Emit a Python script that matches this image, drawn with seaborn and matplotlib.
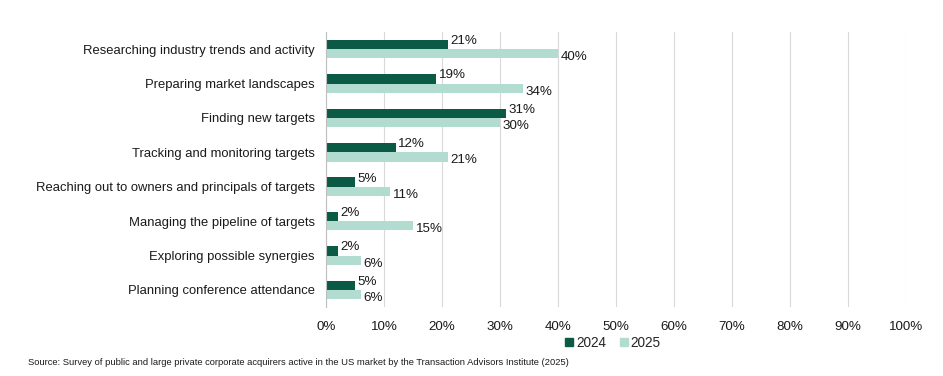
import numpy as np
import pandas as pd
import matplotlib.pyplot as plt
import seaborn as sns

categories = [
    "Researching industry trends and activity",
    "Preparing market landscapes",
    "Finding new targets",
    "Tracking and monitoring targets",
    "Reaching out to owners and principals of targets",
    "Managing the pipeline of targets",
    "Exploring possible synergies",
    "Planning conference attendance",
]
values_2024 = [21, 19, 31, 12, 5, 2, 2, 5]
values_2025 = [40, 34, 30, 21, 11, 15, 6, 6]
years = ["2024", "2025"]
colors = ["#0b5a45", "#b3dcd1"]
source = ("Source: Survey of public and large private corporate acquirers active in the US market "
          "by the Transaction Advisors Institute (2025)")

df = pd.DataFrame({
    "category": categories * 2,
    "value": values_2024 + values_2025,
    "year": [years[0]] * len(categories) + [years[1]] * len(categories),
})

sns.set_style("white")
plt.rcParams['font.family'] = ['Liberation Sans', 'DejaVu Sans']

fig = plt.figure(figsize=(9.43, 3.76), dpi=100)
ax = fig.add_axes([0.3457, 0.183, 0.615, 0.732])

sns.barplot(
    data=df, y="category", x="value", hue="year",
    order=categories, hue_order=years, palette=colors,
    width=0.54, orient="h", ax=ax, legend=False, saturation=1,
    linewidth=0,
)

for container, dy in zip(ax.containers, [2.5, -2.5]):
    for bar in container:
        w = bar.get_width()
        ax.annotate(f"{w:.0f}%", (w, bar.get_y() + bar.get_height() / 2),
                    xytext=(2, dy), textcoords="offset points",
                    ha="left", va="center", fontsize=9.6, color="#1a1a1a")

ax.set_xlim(0, 100)
ax.set_ylim(len(categories) - 0.5, -0.5)
ax.set_xticks(np.arange(0, 101, 10))
ax.set_xticklabels([f"{t}%" for t in range(0, 101, 10)], fontsize=9.6, color="#1a1a1a")
ax.tick_params(axis="y", labelsize=9.4, colors="#1a1a1a", length=0, pad=8)
ax.tick_params(axis="x", length=0, pad=10)
ax.set_xlabel("")
ax.set_ylabel("")
ax.grid(axis="x", color="#d9d9d9", linewidth=0.8)
ax.set_axisbelow(True)
for s in ["top", "right", "bottom"]:
    ax.spines[s].set_visible(False)
ax.spines["left"].set_color("#bfbfbf")
ax.spines["left"].set_linewidth(0.8)

handles = [plt.Rectangle((0, 0), 1, 1, color=c) for c in colors]
fig.legend(handles, years, loc="center", bbox_to_anchor=(0.65, 0.088), ncol=2,
           frameon=False, fontsize=9.8, handlelength=0.6, handleheight=0.6,
           handletextpad=0.2, columnspacing=1.0)

fig.text(0.03, 0.037, source, fontsize=6.75, color="#1a1a1a", va="center")

fig.savefig("out.png", dpi=100)
